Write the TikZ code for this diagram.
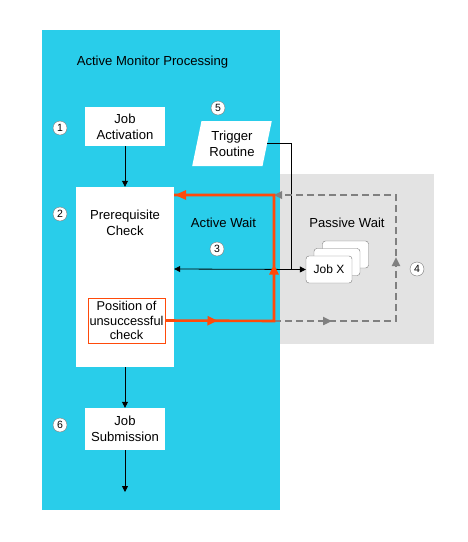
\documentclass[tikz,border=0pt]{standalone}
\usepackage{fontspec}
\setmainfont{Liberation Sans}
\usetikzlibrary{arrows.meta,shapes.geometric,decorations.markings}
\definecolor{cyanbg}{RGB}{41,205,234}
\definecolor{graybg}{RGB}{227,227,227}
\definecolor{orng}{RGB}{255,74,10}
\definecolor{dgray}{RGB}{128,128,128}
\definecolor{cgray}{RGB}{120,120,120}
\tikzset{
  txt/.style={font=\fontsize{13.1}{16}\selectfont, align=center, inner sep=0pt},
  wbox/.style={fill=white, draw=none, inner sep=0pt, font=\fontsize{13.1}{16}\selectfont, align=center},
  num/.style={circle, draw=cgray, fill=white, inner sep=0pt, minimum size=14pt, font=\fontsize{10.5}{12}\selectfont},
  blk/.style={draw=black, line width=0.8pt, -{Triangle[length=6pt,width=6pt]}},
  orline/.style={draw=orng, line width=2.6pt},
  gyline/.style={draw=dgray, line width=2.4pt, dash pattern=on 7pt off 4pt},
  jobx/.style={draw=cgray, fill=white, rounded corners=3pt, minimum width=46pt, minimum height=27pt, inner sep=0pt, font=\fontsize{12}{14}\selectfont}
}
\begin{document}
\begin{tikzpicture}[x=1pt,y=-1pt]
\useasboundingbox (0,0) rectangle (468,542);
\fill[cyanbg] (42,30) rectangle (280,510);
\fill[graybg] (280,174) rectangle (434,344);

\node[txt] (title) at (152.5,62) {Active Monitor Processing};
\node[txt] (aw) at (223.5,223) {Active Wait};
\node[txt] (pw) at (347,223) {Passive Wait};

\node[wbox, minimum width=80pt, minimum height=39pt] (act) at (125,126.5) {Job\\Activation};
\node[wbox, minimum width=98pt, minimum height=180pt] (pre) at (125,277) {};
\node[txt] (pretxt) at (125,223) {Prerequisite\\Check};
\node[wbox, draw=orng, line width=1pt, minimum width=77pt, minimum height=45pt, font=\fontsize{12.8}{14.5}\selectfont] (pos) at (126.5,320.5) {Position of\\unsuccessful\\check};
\node[wbox, minimum width=80pt, minimum height=42pt] (sub) at (125,429) {Job\\Submission};
\node[trapezium, trapezium left angle=75, trapezium right angle=105, trapezium stretches=true, fill=white, minimum width=80pt, minimum height=45pt, inner sep=0pt, txt] (trig) at (232,143.5) {Trigger\\Routine};

\node[jobx] (jx3) at (345.5,254.5) {};
\node[jobx] (jx2) at (337,262) {};
\node[jobx] (jx1) at (329,269.5) {Job X};

\node[num] (n1) at (60,128) {1};
\node[num] (n2) at (60,214) {2};
\node[num] (n3) at (217,249) {3};
\node[num] (n4) at (417,269) {4};
\node[num] (n5) at (218,108) {5};
\node[num] (n6) at (60,425) {6};

\coordinate (endout) at (125,492);
\coordinate (jn) at (291,269);
\coordinate (c1) at (274,321);
\coordinate (c2) at (274,195);
\coordinate (g1) at (396,321);
\coordinate (g2) at (396,195);
\coordinate (g3) at (276,195);

% black connectors
\draw[blk] (act) -- (pre);
\draw[blk] (pre) -- (sub);
\draw[blk] (sub) -- (endout);
\draw[black, line width=0.8pt] (trig.east) -| (jn);
\draw[black, line width=0.8pt, {Triangle[length=6pt,width=6pt]}-{Triangle[length=6pt,width=6pt]}] (pre.east |- jn) -- (jx1.west);

% gray dashed loop
\draw[gyline, postaction={decorate}, decoration={markings,
   mark=at position 58pt with {\arrow[dgray, solid]{Triangle[length=9pt,width=8pt]}},
   mark=at position 186pt with {\arrow[dgray, solid]{Triangle[length=9pt,width=8pt]}}}]
   (c1) -- (g1) -- (g2) -- (g3);
\fill[dgray] (g3) ++(-2,0) -- ++(8,-4) -- ++(0,8) -- cycle;

% orange loop
\draw[orline, line join=miter, postaction={decorate}, decoration={markings,
   mark=at position 52pt with {\arrow[orng]{Triangle[length=10pt,width=9pt]}},
   mark=at position 165pt with {\arrow[orng]{Triangle[length=10pt,width=9pt]}}}]
   (pos.east) -- (c1) -- (c2) -- (pre.east |- c2);
\fill[orng] (pre.east |- c2) ++(1,0) -- ++(11,-5) -- ++(0,10) -- cycle;
\end{tikzpicture}
\end{document}
